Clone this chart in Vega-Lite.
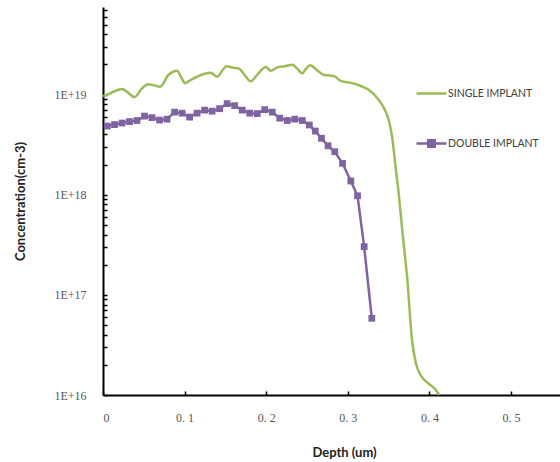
{
  "$schema": "https://vega.github.io/schema/vega-lite/v6.json",
  "width": 457,
  "height": 388,
  "autosize": {"type": "none"},
  "padding": {"left": 103, "top": 7, "right": 0, "bottom": 67},
  "background": "white",
  "config": {"view": {"stroke": null}},
  "datasets": {
    "single": [
      {"depth": 0.0, "conc": 9.66e18},
      {"depth": 0.0067, "conc": 1.01e19},
      {"depth": 0.0233, "conc": 1.14e19},
      {"depth": 0.0301, "conc": 1.06e19},
      {"depth": 0.0387, "conc": 9.44e18},
      {"depth": 0.0472, "conc": 1.14e19},
      {"depth": 0.0552, "conc": 1.27e19},
      {"depth": 0.0620, "conc": 1.24e19},
      {"depth": 0.0699, "conc": 1.20e19},
      {"depth": 0.0804, "conc": 1.58e19},
      {"depth": 0.0908, "conc": 1.73e19},
      {"depth": 0.0963, "conc": 1.46e19},
      {"depth": 0.1006, "conc": 1.30e19},
      {"depth": 0.1074, "conc": 1.40e19},
      {"depth": 0.1147, "conc": 1.50e19},
      {"depth": 0.1319, "conc": 1.65e19},
      {"depth": 0.1401, "conc": 1.51e19},
      {"depth": 0.1466, "conc": 1.76e19},
      {"depth": 0.1512, "conc": 1.92e19},
      {"depth": 0.1589, "conc": 1.86e19},
      {"depth": 0.1666, "conc": 1.82e19},
      {"depth": 0.1736, "conc": 1.57e19},
      {"depth": 0.1810, "conc": 1.36e19},
      {"depth": 0.1896, "conc": 1.60e19},
      {"depth": 0.1994, "conc": 1.89e19},
      {"depth": 0.2055, "conc": 1.73e19},
      {"depth": 0.2137, "conc": 1.87e19},
      {"depth": 0.2227, "conc": 1.92e19},
      {"depth": 0.2321, "conc": 1.99e19},
      {"depth": 0.2374, "conc": 1.84e19},
      {"depth": 0.2444, "conc": 1.63e19},
      {"depth": 0.2485, "conc": 1.80e19},
      {"depth": 0.2537, "conc": 1.97e19},
      {"depth": 0.2620, "conc": 1.76e19},
      {"depth": 0.2709, "conc": 1.57e19},
      {"depth": 0.2832, "conc": 1.53e19},
      {"depth": 0.2914, "conc": 1.37e19},
      {"depth": 0.3037, "conc": 1.31e19},
      {"depth": 0.3160, "conc": 1.22e19},
      {"depth": 0.3261, "conc": 1.11e19},
      {"depth": 0.3364, "conc": 9.16e18},
      {"depth": 0.3445, "conc": 7.28e18},
      {"depth": 0.3507, "conc": 5.35e18},
      {"depth": 0.3548, "conc": 3.52e18},
      {"depth": 0.3589, "conc": 1.77e18},
      {"depth": 0.3610, "conc": 1.30e18},
      {"depth": 0.3671, "conc": 4.12e17},
      {"depth": 0.3733, "conc": 1.31e17},
      {"depth": 0.3782, "conc": 3.83e16},
      {"depth": 0.3834, "conc": 2.08e16},
      {"depth": 0.3883, "conc": 1.63e16},
      {"depth": 0.3936, "conc": 1.42e16},
      {"depth": 0.3994, "conc": 1.29e16},
      {"depth": 0.4059, "conc": 1.17e16},
      {"depth": 0.4120, "conc": 1.00e16}
    ],
    "double": [
      {"depth": 0.0052, "conc": 4.85e18},
      {"depth": 0.0141, "conc": 5.02e18},
      {"depth": 0.0233, "conc": 5.20e18},
      {"depth": 0.0325, "conc": 5.38e18},
      {"depth": 0.0417, "conc": 5.51e18},
      {"depth": 0.0509, "conc": 6.10e18},
      {"depth": 0.0601, "conc": 5.89e18},
      {"depth": 0.0693, "conc": 5.57e18},
      {"depth": 0.0785, "conc": 5.69e18},
      {"depth": 0.0877, "conc": 6.68e18},
      {"depth": 0.0969, "conc": 6.53e18},
      {"depth": 0.1061, "conc": 5.96e18},
      {"depth": 0.1153, "conc": 6.53e18},
      {"depth": 0.1245, "conc": 7.00e18},
      {"depth": 0.1337, "conc": 6.84e18},
      {"depth": 0.1429, "conc": 7.24e18},
      {"depth": 0.1521, "conc": 8.13e18},
      {"depth": 0.1613, "conc": 7.76e18},
      {"depth": 0.1706, "conc": 7.00e18},
      {"depth": 0.1798, "conc": 6.53e18},
      {"depth": 0.1890, "conc": 6.46e18},
      {"depth": 0.1982, "conc": 7.08e18},
      {"depth": 0.2074, "conc": 6.68e18},
      {"depth": 0.2166, "conc": 5.82e18},
      {"depth": 0.2258, "conc": 5.51e18},
      {"depth": 0.2350, "conc": 5.69e18},
      {"depth": 0.2442, "conc": 5.51e18},
      {"depth": 0.2528, "conc": 4.97e18},
      {"depth": 0.2601, "conc": 4.33e18},
      {"depth": 0.2677, "conc": 3.66e18},
      {"depth": 0.2758, "conc": 3.08e18},
      {"depth": 0.2840, "conc": 2.69e18},
      {"depth": 0.2935, "conc": 2.06e18},
      {"depth": 0.3037, "conc": 1.37e18},
      {"depth": 0.3119, "conc": 9.77e17},
      {"depth": 0.3200, "conc": 3.03e17},
      {"depth": 0.3294, "conc": 5.83e16}
    ]
  },
  "encoding": {
    "x": {
      "field": "depth", "type": "quantitative",
      "scale": {"domain": [0, 0.56], "nice": false, "zero": false},
      "axis": {
        "title": "Depth (um)",
        "values": [0, 0.1, 0.2, 0.3, 0.4, 0.5],
        "labelExpr": "datum.value == 0 ? '0' : replace(format(datum.value, '.1f'), '.', '. ')",
        "labelFont": "Liberation Serif", "labelFontSize": 12, "labelColor": "#555555",
        "labelPadding": 21,
        "tickSize": -4, "tickColor": "#000000", "tickWidth": 1.5,
        "domainColor": "#000000", "domainWidth": 2,
        "grid": false,
        "titleFont": "Lato", "titleFontSize": 13, "titleFontWeight": "bold", "titleColor": "#222222",
        "titleX": 241, "titlePadding": 23
      }
    },
    "y": {
      "field": "conc", "type": "quantitative",
      "scale": {"type": "log", "domain": [1e16, 7.5e19], "nice": false},
      "axis": {
        "title": "Concentration(cm-3)",
        "values": [1e16, 2e16, 3e16, 4e16, 5e16, 6e16, 7e16, 8e16, 9e16, 1e17, 2e17, 3e17, 4e17, 5e17, 6e17, 7e17, 8e17, 9e17, 1e18, 2e18, 3e18, 4e18, 5e18, 6e18, 7e18, 8e18, 9e18, 1e19, 2e19, 3e19, 4e19, 5e19, 6e19, 7e19],
        "labelExpr": "abs(log(datum.value)/LN10 - round(log(datum.value)/LN10)) < 0.001 ? '1E+' + round(log(datum.value)/LN10) : ''",
        "labelFont": "Liberation Serif", "labelFontSize": 12, "labelColor": "#555555",
        "labelPadding": 21,
        "tickSize": -4, "tickColor": "#000000", "tickWidth": 1.5,
        "domainColor": "#000000", "domainWidth": 2,
        "grid": false,
        "titleFont": "Lato", "titleFontSize": 13, "titleFontWeight": "bold", "titleColor": "#222222",
        "titlePadding": 26
      }
    }
  },
  "layer": [
    {
      "data": {"name": "single"},
      "transform": [{"calculate": "'SINGLE IMPLANT'", "as": "series"}],
      "mark": {"type": "line", "interpolate": "monotone", "strokeWidth": 2.5},
      "encoding": {
        "color": {
          "field": "series", "type": "nominal",
          "scale": {"domain": ["SINGLE IMPLANT", "DOUBLE IMPLANT"], "range": ["#9bbb59", "#8064a2"]},
          "legend": {
            "title": null, "orient": "none", "legendX": 312, "legendY": 70,
            "symbolType": "stroke", "symbolSize": 900, "symbolStrokeWidth": 2.5,
            "labelFont": "Lato", "labelFontSize": 10.5, "labelColor": "#404040", "labelOffset": 0,
            "rowPadding": 28,
            "encode": {
              "symbols": {
                "update": {
                  "shape": {"signal": "datum.value === 'DOUBLE IMPLANT' ? 'M-1,0H1M-0.22,-0.22H0.22V0.22H-0.22Z' : 'stroke'"},
                  "fill": {"signal": "datum.value === 'DOUBLE IMPLANT' ? '#8064a2' : 'transparent'"}
                }
              }
            }
          }
        }
      }
    },
    {
      "data": {"name": "double"},
      "transform": [{"calculate": "'DOUBLE IMPLANT'", "as": "series"}],
      "mark": {"type": "line", "strokeWidth": 2.5},
      "encoding": {
        "color": {"field": "series", "type": "nominal"}
      }
    },
    {
      "data": {"name": "double"},
      "mark": {"type": "point", "shape": "square", "size": 46, "filled": true, "opacity": 1, "color": "#8064a2"}
    }
  ]
}
